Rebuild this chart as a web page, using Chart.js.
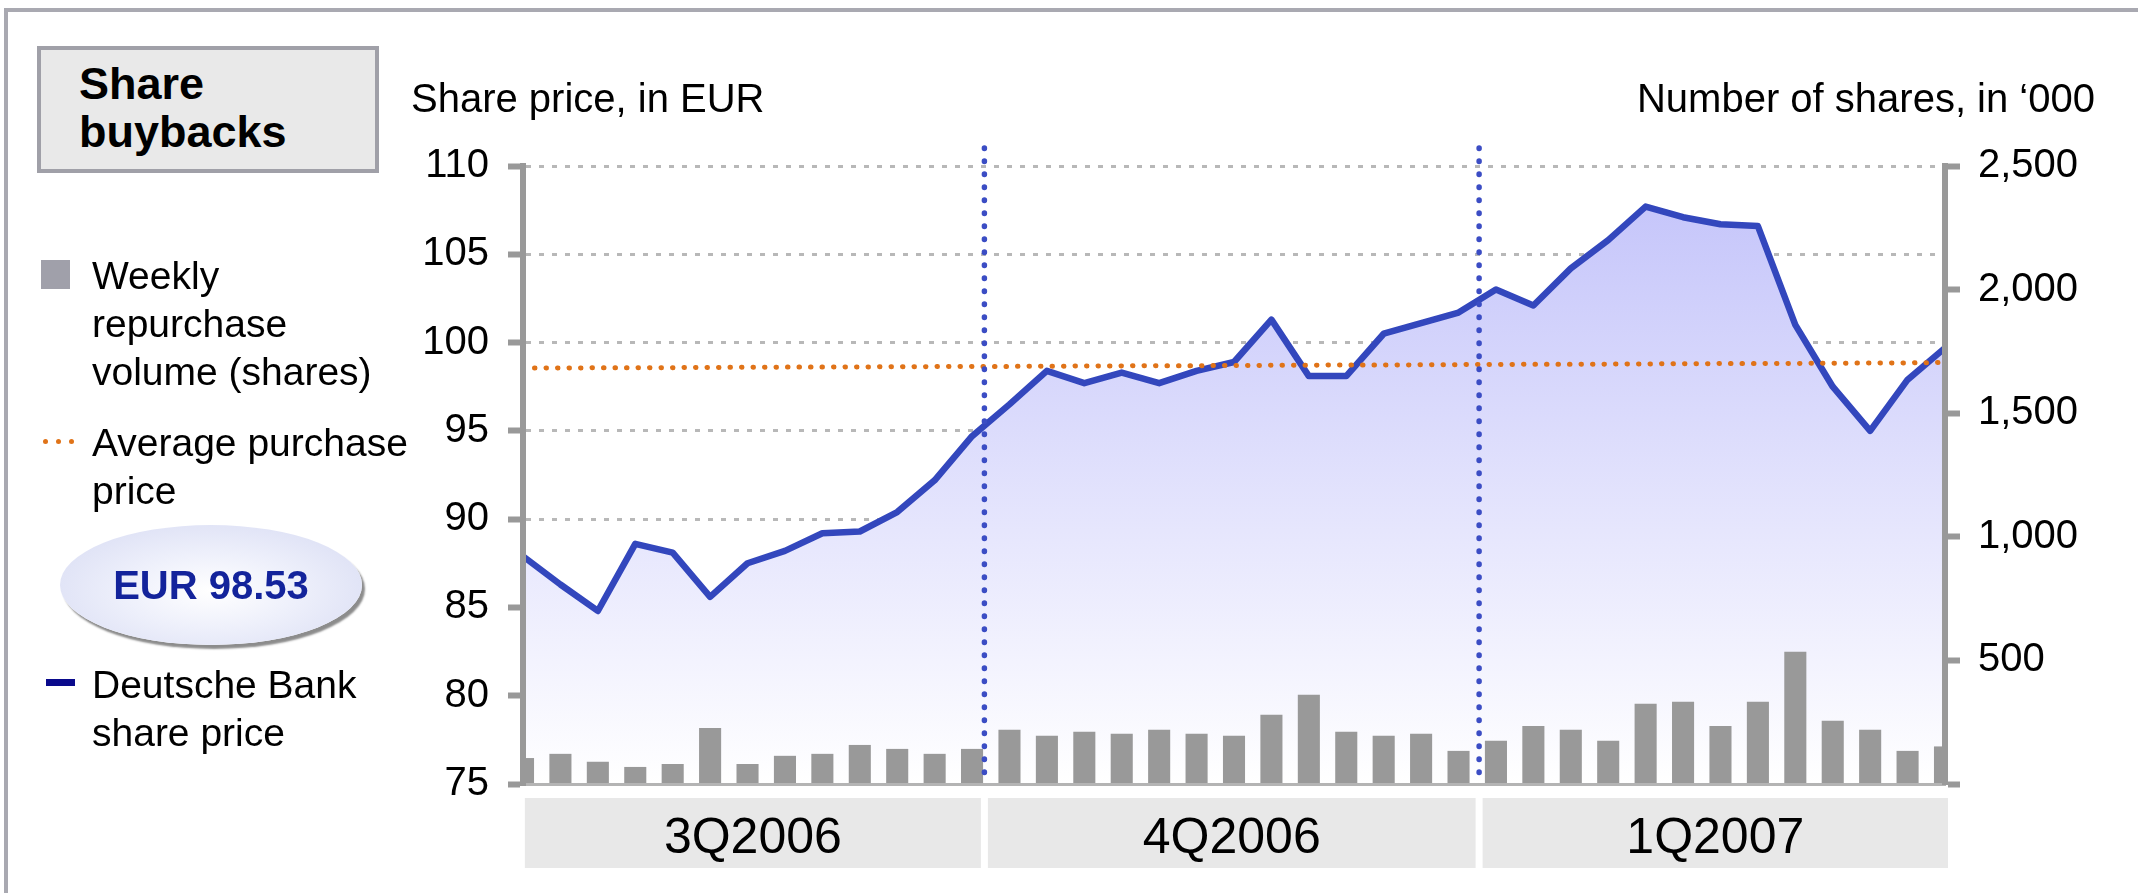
<!DOCTYPE html>
<html>
<head>
<meta charset="utf-8">
<title>Share buybacks</title>
<script src="https://cdn.jsdelivr.net/npm/chart.js@4.4.1/dist/chart.umd.min.js"></script>
<style>
    html, body { margin: 0; padding: 0; background: #fff; }
    body { width: 2138px; height: 893px; position: relative; overflow: hidden;
           font-family: "Liberation Sans", Arial, sans-serif; color: #000; }
    #canvas-1 { position: absolute; left: 0; top: 0; }
    .frame { position: absolute; left: 4px; top: 8px; width: 2300px; height: 1000px;
             border-left: 4px solid #a9a9b1; border-top: 4px solid #a9a9b1; }
    .titlebox { position: absolute; left: 37px; top: 46px; width: 334px; height: 119px;
                background: #e9e9e9; border: 4px solid #a0a0a8; }
    .titlebox span { position: absolute; left: 38px; top: 10px; font-weight: bold;
                     font-size: 45px; line-height: 48px; }
    .txt { position: absolute; font-size: 39px; line-height: 48px; white-space: nowrap; }
    .axtitle { position: absolute; font-size: 40px; line-height: 48px; white-space: nowrap; top: 74px; }
    .sq { position: absolute; left: 41px; top: 260px; width: 29px; height: 29px; background: #a0a0aa; }
    .dot { position: absolute; top: 439px; width: 5px; height: 5px; border-radius: 50%; background: #e07318; }
    .oval { position: absolute; left: 60px; top: 525px; width: 302px; height: 120px; border-radius: 50%;
            background: radial-gradient(ellipse at 50% 55%, #ffffff 0%, #eef0fb 40%, #d5d9f2 100%);
            box-shadow: 3px 4px 2px #8c8c8c; }
    .eur { position: absolute; left: 60px; width: 302px; top: 561px; text-align: center;
           font-weight: bold; font-size: 40px; line-height: 48px; color: #13239b; }
    .dash { position: absolute; left: 46px; top: 679px; width: 29px; height: 7px; background: #0a0a8c; }
</style>
</head>
<body>
<canvas id="canvas-1" width="2138" height="893"></canvas>
<div class="frame"></div>
<div class="titlebox"><span>Share<br>buybacks</span></div>
<div class="axtitle" style="left:411px">Share price, in EUR</div>
<div class="axtitle" style="right:43px">Number of shares, in ‘000</div>

<div class="sq"></div>
<div class="txt" style="left:92px;top:252px">Weekly<br>repurchase<br>volume (shares)</div>
<div class="dot" style="left:43px"></div>
<div class="dot" style="left:56px"></div>
<div class="dot" style="left:69px"></div>
<div class="txt" style="left:92px;top:419px">Average purchase<br>price</div>
<div class="oval"></div>
<div class="eur">EUR 98.53</div>
<div class="dash"></div>
<div class="txt" style="left:92px;top:661px">Deutsche Bank<br>share price</div>

<script>
(function () {
    'use strict';

    // weekly data points (week ending)
    var weeks = ['07.07.06', '14.07.06', '21.07.06', '28.07.06', '04.08.06', '11.08.06', '18.08.06',
        '25.08.06', '01.09.06', '08.09.06', '15.09.06', '22.09.06', '29.09.06',
        '06.10.06', '13.10.06', '20.10.06', '27.10.06', '03.11.06', '10.11.06', '17.11.06',
        '24.11.06', '01.12.06', '08.12.06', '15.12.06', '22.12.06', '29.12.06',
        '05.01.07', '12.01.07', '19.01.07', '26.01.07', '02.02.07', '09.02.07', '16.02.07',
        '23.02.07', '02.03.07', '09.03.07', '16.03.07', '23.03.07', '30.03.07'];

    // Deutsche Bank share price, EUR
    var sharePrice = [87.9, 86.3, 84.8, 88.6, 88.1, 85.6, 87.5, 88.2, 89.2, 89.3, 90.4, 92.2, 94.7,
        96.5, 98.4, 97.7, 98.3, 97.7, 98.4, 98.9, 101.3, 98.1, 98.1, 100.5, 101.1, 101.7,
        103.0, 102.1, 104.2, 105.8, 107.7, 107.1, 106.7, 106.6, 101.0, 97.5, 95.0, 97.9, 99.7];

    // average purchase price, EUR
    var avgPrice = [98.55, 98.56, 98.57, 98.57, 98.58, 98.59, 98.60, 98.61, 98.61, 98.62, 98.63, 98.64, 98.65,
        98.65, 98.66, 98.67, 98.68, 98.69, 98.69, 98.70, 98.71, 98.72, 98.73, 98.73, 98.74, 98.75,
        98.76, 98.77, 98.77, 98.78, 98.79, 98.80, 98.81, 98.81, 98.82, 98.83, 98.84, 98.85, 98.87];

    // weekly repurchase volume, '000 shares
    var buybackVolume = [105, 122, 90, 69, 81, 227, 81, 114, 122, 158, 142, 122, 142,
        219, 195, 211, 203, 219, 203, 195, 280, 361, 211, 195, 203, 134,
        175, 235, 219, 175, 325, 333, 235, 333, 535, 256, 219, 134, 152];

    var quarterLabels = ['3Q2006', '4Q2006', '1Q2007'];
    var quarterBounds = [0.05, 12.33, 25.55, 38.08];   // in week index
    var quarterBreaks = [12.33, 25.55];

    var FONT = '"Liberation Sans", Arial, sans-serif';
    Chart.defaults.font.family = FONT;
    Chart.defaults.color = '#000';

    //quarter boxes under the axis + dotted quarter separators
    var quarterPlugin = {
        id: 'quarters',
        afterDraw: function (chart) {
            var ctx = chart.ctx;
            var xs = chart.scales.x;
            var area = chart.chartArea;
            ctx.save();
            for (var j = 0; j < quarterLabels.length; j++) {
                var x0 = xs.getPixelForValue(quarterBounds[j]) + (j > 0 ? 3.5 : 0);
                var x1 = xs.getPixelForValue(quarterBounds[j + 1]) - (j < quarterLabels.length - 1 ? 3.5 : 0);
                ctx.fillStyle = '#e8e8e8';
                ctx.fillRect(x0, area.bottom + 14, x1 - x0, 70);
                ctx.fillStyle = '#000';
                ctx.font = '50px ' + FONT;
                ctx.textAlign = 'center';
                ctx.textBaseline = 'alphabetic';
                ctx.fillText(quarterLabels[j], (x0 + x1) / 2, area.bottom + 69);
            }
            ctx.strokeStyle = '#3b4dc4';
            ctx.lineWidth = 5.5;
            ctx.lineCap = 'round';
            ctx.setLineDash([0.5, 12.5]);
            for (var k = 0; k < quarterBreaks.length; k++) {
                var px = xs.getPixelForValue(quarterBreaks[k]);
                ctx.beginPath();
                ctx.moveTo(px, 148);
                ctx.lineTo(px, area.bottom);
                ctx.stroke();
            }
            ctx.restore();
        }
    };

    var ctx = document.getElementById('canvas-1');
    var chart = new Chart(ctx, {
        type: 'bar',
        data: {
            labels: weeks,
            datasets: [{
                type: 'line',
                label: 'Deutsche Bank share price',
                data: sharePrice,
                yAxisID: 'y',
                borderColor: '#3347bd',
                borderWidth: 6.5,
                borderJoinStyle: 'round',
                pointRadius: 0,
                tension: 0,
                fill: 'start',
                backgroundColor: function (context) {
                    var area = context.chart.chartArea;
                    if (!area) {
                        return 'rgb(225,225,250)';
                    }
                    var g = context.chart.ctx.createLinearGradient(0, area.top, 0, area.bottom);
                    g.addColorStop(0, 'rgb(194,194,250)');
                    g.addColorStop(1, 'rgb(255,255,255)');
                    return g;
                },
                order: 3
            }, {
                type: 'bar',
                label: 'Weekly repurchase volume (shares)',
                data: buybackVolume,
                yAxisID: 'y2',
                backgroundColor: '#999999',
                barPercentage: 0.59,
                categoryPercentage: 1,
                clip: 0,
                order: 2
            }, {
                type: 'line',
                label: 'Average purchase price',
                data: avgPrice,
                yAxisID: 'y',
                borderColor: '#e07318',
                borderWidth: 5,
                borderDash: [0.5, 11],
                borderCapStyle: 'round',
                pointRadius: 0,
                fill: false,
                order: 1
            }]
        },
        options: {
            responsive: false,
            animation: false,
            devicePixelRatio: 1,
            layout: { padding: { top: 166, left: 0, right: 0, bottom: 0 } },
            plugins: {
                legend: { display: false },
                tooltip: { enabled: false }
            },
            scales: {
                x: {
                    type: 'category',
                    offset: false,
                    grid: { display: false, drawTicks: false },
                    ticks: { display: false },
                    border: { display: true, color: '#b4b4b4', width: 3, z: 1 },
                    afterFit: function (s) { s.height = 109; }
                },
                y: {
                    position: 'left',
                    min: 75,
                    max: 110,
                    ticks: { stepSize: 5, color: '#000', font: { size: 40 }, padding: 19 },
                    grid: { color: '#b8b8b8', lineWidth: 3, tickLength: 15, tickWidth: 6,
                            tickColor: '#999999', tickBorderDash: [] },
                    border: { color: '#999999', width: 6, dash: [5, 8], z: 1 },
                    afterFit: function (s) { s.width = 523; }
                },
                y2: {
                    position: 'right',
                    min: 0,
                    max: 2500,
                    ticks: {
                        stepSize: 500, color: '#000', font: { size: 40 }, padding: 18,
                        callback: function (v) { return v === 0 ? '' : v.toLocaleString('en-US'); }
                    },
                    grid: { drawOnChartArea: false, tickLength: 15, tickWidth: 6,
                            tickColor: '#999999', tickBorderDash: [] },
                    border: { color: '#999999', width: 6, z: 1 },
                    afterFit: function (s) { s.width = 193; }
                }
            }
        },
        plugins: [quarterPlugin]
    });
})();
</script>
</body>
</html>
